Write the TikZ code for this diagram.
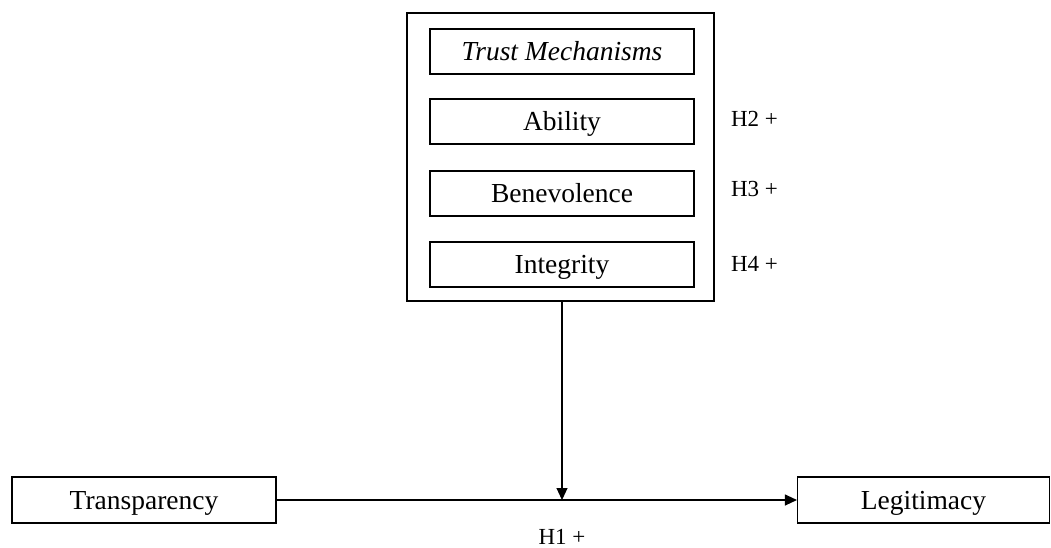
\documentclass[tikz,border=0pt]{standalone}
\usepackage{fontspec}
\setmainfont{Liberation Serif}
\usetikzlibrary{arrows.meta}
\begin{document}
\begin{tikzpicture}[x=1pt,y=-1pt,
  box/.style={draw,line width=1.1pt,rectangle,inner sep=0pt,text height=18.2pt,text depth=0pt,font=\fontsize{27.5}{30}\selectfont},
  hlabel/.style={inner sep=0pt,text height=15.2pt,text depth=0pt,font=\fontsize{23}{26}\selectfont},
  arr/.style={line width=1.1pt,-{Triangle[length=12pt,width=11pt]}}]
\useasboundingbox (0,0) rectangle (1051,547);
\node[box,minimum width=307pt,minimum height=288pt] (outer) at (560.5,157) {};
\node[box,minimum width=264pt,minimum height=45pt] (tm) at (562,51.5) {\itshape Trust Mechanisms};
\node[box,minimum width=264pt,minimum height=45pt] (ab) at (562,121.5) {Ability};
\node[box,minimum width=264pt,minimum height=45pt] (be) at (562,193.5) {Benevolence};
\node[box,minimum width=264pt,minimum height=45pt] (in) at (562,264.5) {Integrity};
\node[box,minimum width=264pt,minimum height=46pt] (tr) at (144,500) {Transparency};
\node[box,minimum width=252pt,minimum height=46pt] (le) at (923.5,500) {Legitimacy};
\coordinate (m) at (562,500);
\draw[arr] (tr.east) -- (le.west);
\draw[arr] (outer.south -| m) -- (m);
\node[hlabel] (h1) at (562,536.5) {H1 +};
\node[hlabel] (h2) at (754.5,118.5) {H2 +};
\node[hlabel] (h3) at (754.5,188.5) {H3 +};
\node[hlabel] (h4) at (754.5,263.5) {H4 +};
\end{tikzpicture}
\end{document}
